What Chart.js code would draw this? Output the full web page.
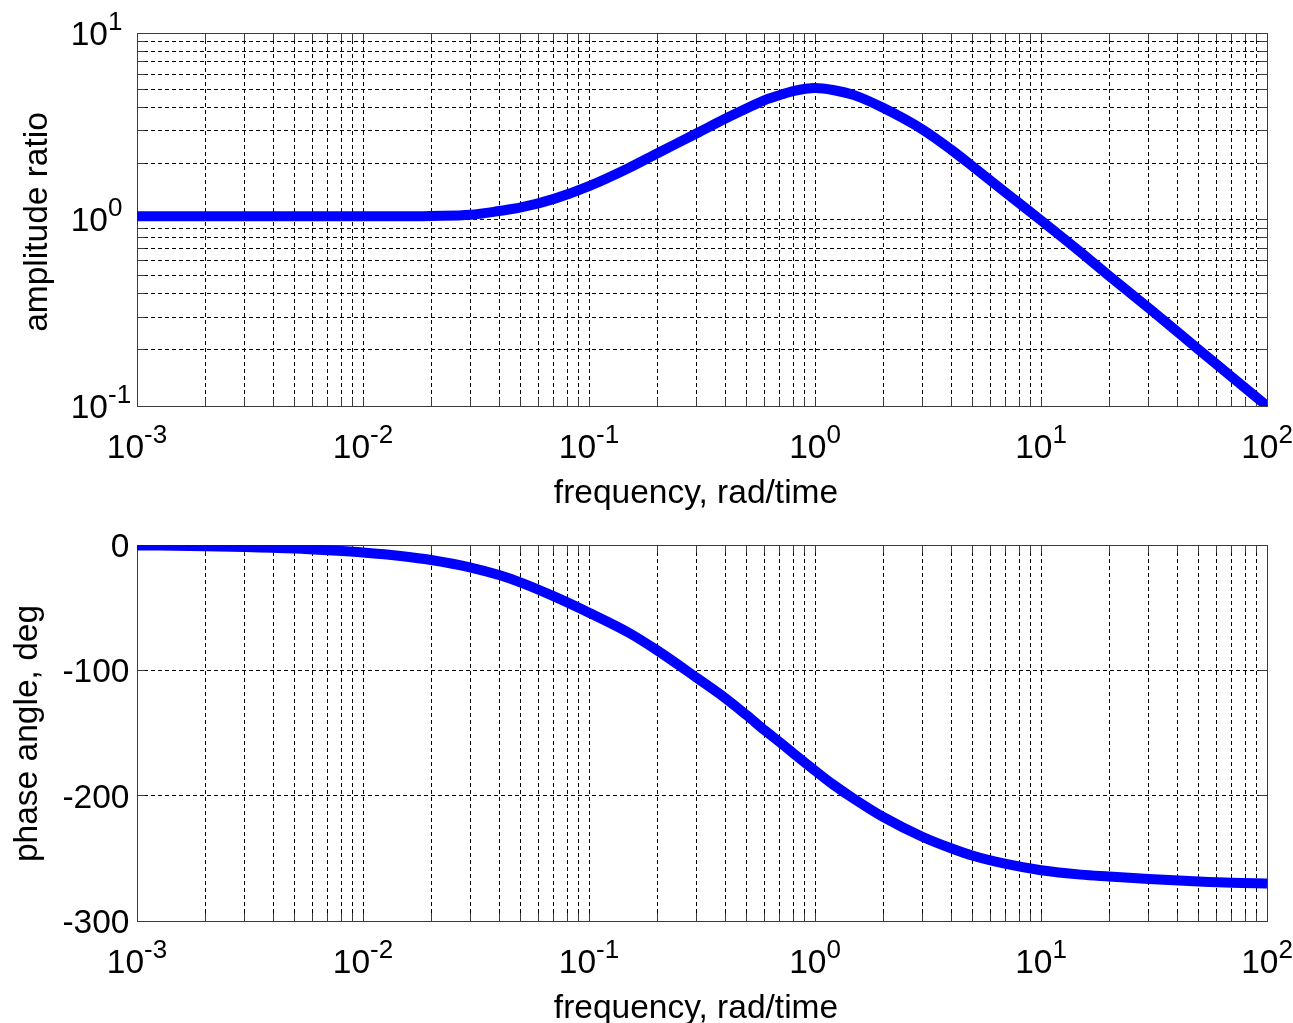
<!DOCTYPE html>
<html>
<head>
<meta charset="utf-8">
<script src="https://cdn.jsdelivr.net/npm/chart.js@4.4.1/dist/chart.umd.min.js"></script>
<style>
  html, body { margin: 0; padding: 0; background: #fff; }
  canvas { position: absolute; left: 0; }
  #amp { top: 0; }
  #phase { top: 515px; }
</style>
</head>
<body>
<canvas id="amp" width="1293" height="515"></canvas>
<canvas id="phase" width="1293" height="508"></canvas>
<script>
// frequency response samples, rad/time
const freq = [0.001, 0.002, 0.003, 0.005, 0.007, 0.01, 0.015, 0.02, 0.03, 0.04, 0.05, 0.07,
  0.1, 0.15, 0.2, 0.3, 0.4, 0.5, 0.6, 0.7, 0.8, 1, 1.2, 1.5, 2, 3, 4, 5, 7,
  10, 15, 20, 30, 50, 70, 100];
const amplitude = [1.04, 1.04, 1.04, 1.04, 1.04, 1.04, 1.04, 1.045, 1.06, 1.11, 1.16, 1.29,
  1.51, 1.89, 2.26, 2.90, 3.47, 3.95, 4.37, 4.65, 4.88, 5.07, 4.95, 4.63, 3.97, 3.03, 2.37, 1.92, 1.39,
  0.99, 0.667, 0.499, 0.335, 0.200, 0.143, 0.100];
const phase = [-0.3, -0.9, -1.5, -2.8, -4.2, -6, -9, -12, -18, -24, -30, -41,
  -54, -70, -84, -106, -122, -136, -148, -157.5, -166, -180, -191, -203, -217, -233, -242, -248, -254.5,
  -259.5, -263, -264.5, -266.5, -268.5, -269.5, -270];

// axis ranges and tick labels
const freqExp = [-3, -2, -1, 0, 1, 2];
const ampExp = [-1, 0, 1];
const phaseTicks = [0, -100, -200, -300];

const FONT = "'Liberation Sans', Arial, sans-serif";
const AXIS = '#3a3a3a';
const TICK = 8;

function logTicks(lo, hi) {
  const out = [];
  for (let e = lo; e < hi; e++) {
    for (let k = 1; k < 10; k++) out.push(+(k * Math.pow(10, e)).toPrecision(3));
  }
  out.push(Math.pow(10, hi));
  return out;
}

function px(v) { return Math.round(v - 0.5) + 0.5; }

// "10" with a raised exponent; anchor is the left edge of the whole label
function drawPow(ctx, exp, x, y) {
  ctx.font = '33.5px ' + FONT;
  ctx.textAlign = 'left';
  ctx.fillText('10', x, y);
  const w = ctx.measureText('10').width;
  ctx.font = '26px ' + FONT;
  ctx.fillText(String(exp), x + w, y - 15);
}

function powWidth(ctx, exp) {
  ctx.font = '33.5px ' + FONT;
  const a = ctx.measureText('10').width;
  ctx.font = '26px ' + FONT;
  return a + ctx.measureText(String(exp)).width;
}

function decor(cfg) {
  return {
    id: 'decor',
    beforeDatasetsDraw(chart) {
      const { ctx, chartArea: a } = chart;
      const xs = chart.scales.x, ys = chart.scales.y;
      ctx.save();
      ctx.strokeStyle = AXIS;
      ctx.lineWidth = 1;
      ctx.beginPath();
      xs.ticks.forEach(t => {
        const p = px(xs.getPixelForValue(t.value));
        ctx.moveTo(p, a.bottom); ctx.lineTo(p, a.bottom - TICK);
        ctx.moveTo(p, a.top); ctx.lineTo(p, a.top + TICK);
      });
      ys.ticks.forEach(t => {
        const p = px(ys.getPixelForValue(t.value));
        ctx.moveTo(a.left, p); ctx.lineTo(a.left + TICK, p);
        ctx.moveTo(a.right, p); ctx.lineTo(a.right - TICK, p);
      });
      ctx.stroke();
      ctx.strokeRect(px(a.left), px(a.top), Math.round(a.right - a.left), Math.round(a.bottom - a.top));
      ctx.restore();
    },
    afterDraw(chart) {
      const { ctx, chartArea: a } = chart;
      const xs = chart.scales.x, ys = chart.scales.y;
      ctx.save();
      ctx.fillStyle = '#000';
      ctx.textBaseline = 'alphabetic';

      freqExp.forEach(e => {
        const x = xs.getPixelForValue(Math.pow(10, e));
        drawPow(ctx, e, x - powWidth(ctx, e) / 2, a.bottom + 52);
      });

      if (cfg.logY) {
        ampExp.forEach(e => {
          const y = ys.getPixelForValue(Math.pow(10, e));
          ctx.font = '33.5px ' + FONT;
          const w = ctx.measureText('10').width;
          drawPow(ctx, e, a.left - 29 - w, y + 11.5);
        });
      } else {
        ctx.font = '33.5px ' + FONT;
        ctx.textAlign = 'right';
        phaseTicks.forEach(v => {
          ctx.fillText(String(v), a.left - 7.5, ys.getPixelForValue(v) + 12);
        });
      }

      ctx.font = '33.5px ' + FONT;
      ctx.textAlign = 'center';
      ctx.fillText('frequency, rad/time', 696, a.bottom + 97);

      ctx.translate(cfg.titleX, cfg.titleY);
      ctx.rotate(-Math.PI / 2);
      ctx.fillText(cfg.title, 0, 0);
      ctx.restore();
    }
  };
}

function makeChart(id, values, yScale, pad, cfg) {
  return new Chart(document.getElementById(id), {
    type: 'line',
    data: {
      datasets: [{
        data: freq.map((f, i) => ({ x: f, y: values[i] })),
        borderColor: '#0000ff',
        borderWidth: 10,
        pointRadius: 0,
        cubicInterpolationMode: 'monotone',
        borderJoinStyle: 'round',
        fill: false,
        clip: 0
      }]
    },
    options: {
      responsive: false,
      animation: false,
      devicePixelRatio: 1,
      layout: { padding: pad },
      plugins: { legend: { display: false }, tooltip: { enabled: false } },
      scales: {
        x: {
          type: 'logarithmic',
          min: 0.001,
          max: 100,
          afterBuildTicks: s => { s.ticks = logTicks(-3, 2).map(v => ({ value: v })); },
          ticks: { display: false, autoSkip: false },
          grid: { color: '#000', lineWidth: 1, drawTicks: false },
          border: { display: false, dash: [4, 3] }
        },
        y: Object.assign({
          ticks: { display: false, autoSkip: false },
          grid: { color: '#000', lineWidth: 1, drawTicks: false },
          border: { display: false, dash: [4, 3] }
        }, yScale)
      }
    },
    plugins: [decor(cfg)]
  });
}

makeChart('amp', amplitude, {
  type: 'logarithmic',
  min: 0.1,
  max: 10,
  afterBuildTicks: s => { s.ticks = logTicks(-1, 1).map(v => ({ value: v })); }
}, { left: 137, right: 26, top: 33, bottom: 109 },
{ logY: true, title: 'amplitude ratio', titleX: 47, titleY: 222 });

makeChart('phase', phase, {
  type: 'linear',
  min: -300,
  max: 0,
  afterBuildTicks: s => { s.ticks = phaseTicks.map(v => ({ value: v })); }
}, { left: 137, right: 26, top: 30, bottom: 102 },
{ logY: false, title: 'phase angle, deg', titleX: 37, titleY: 218.5 });
</script>
</body>
</html>
